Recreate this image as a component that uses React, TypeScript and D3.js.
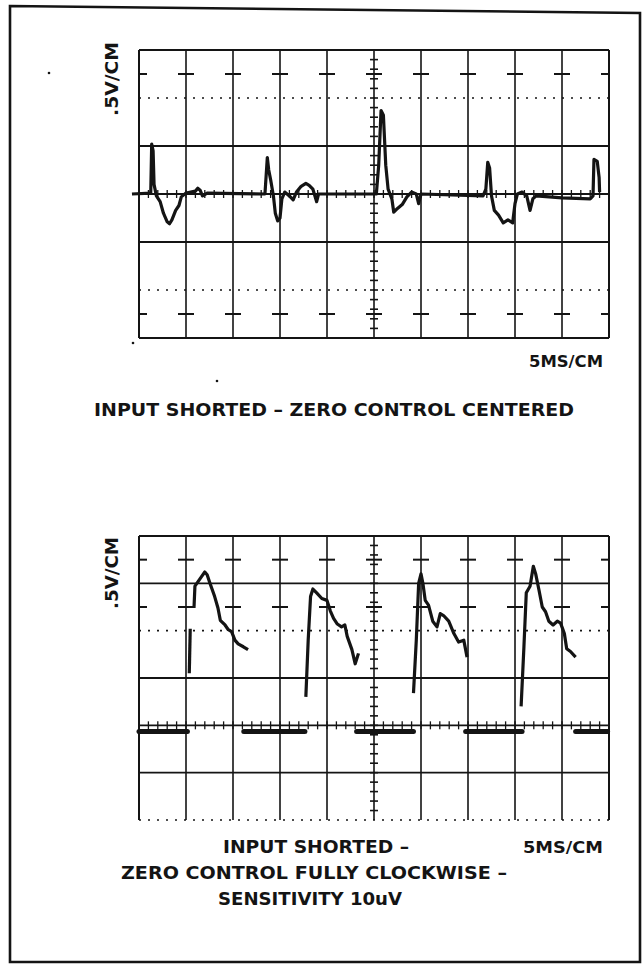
import React, {useEffect, useRef} from "react";
import * as d3 from "d3";

type Pt = [number, number];

// sweep 5 ms/cm, vertical 0.5 V/cm
const sweepMs = [0, 5, 10, 15, 20, 25, 30, 35, 40, 45, 50];
const dottedVolts = [-1, 1];
const dashVolts = [-1.75, -1.25, 1.25, 1.75];

// upper trace: input shorted, zero control centered  [ms, V]
const topTrace: Pt[] = [
    [-0.75, 0], [1.25, 0.01], [1.35, 0.52], [1.5, 0.45], [1.6, 0.1], [1.85, -0.02],
    [2.25, -0.08], [2.6, -0.2], [3.0, -0.29], [3.25, -0.31], [3.5, -0.27], [3.9, -0.17],
    [4.25, -0.12], [4.5, -0.03], [5.0, 0.01], [6.0, 0.03], [6.25, 0.06], [6.5, 0.04],
    [6.75, -0.02], [7.25, 0.01], [13.4, 0], [13.65, 0.38], [13.8, 0.25], [14.0, 0.15],
    [14.3, -0.02], [14.5, -0.2], [14.75, -0.28], [15.0, -0.25], [15.2, -0.05], [15.5, 0.02],
    [16.0, -0.02], [16.4, -0.06], [16.75, 0.02], [17.25, 0.08], [17.75, 0.11], [18.1, 0.09],
    [18.5, 0.05], [18.9, -0.08], [19.1, 0], [25.25, 0], [25.5, 0.3], [25.75, 0.87],
    [26.0, 0.82], [26.25, 0.3], [26.5, 0.05], [26.9, -0.05], [27.1, -0.19], [27.5, -0.15],
    [28.0, -0.11], [28.5, -0.03], [29.0, 0.02], [29.5, 0], [29.75, -0.1], [30.0, 0],
    [36.6, -0.02], [36.9, 0.05], [37.1, 0.33], [37.3, 0.27], [37.5, -0.02], [37.8, -0.17],
    [38.25, -0.22], [38.75, -0.3], [39.25, -0.27], [39.75, -0.3], [40.0, -0.1], [40.25, 0],
    [40.75, 0.02], [41.25, -0.02], [41.6, -0.17], [41.9, -0.05], [42.25, -0.02], [45.0, -0.04],
    [48.0, -0.05], [48.3, -0.02], [48.4, 0.36], [48.75, 0.34], [48.95, 0.17], [49.0, 0.02],
];

// lower trace: zero control fully clockwise  [ms, V]
const bottomPulses: Pt[][] = [
    [[5.35, 0.55], [5.45, 1.02]],
    [[5.85, 1.24], [5.95, 1.47], [6.3, 1.52], [6.65, 1.57], [7.0, 1.62], [7.25, 1.59],
        [7.55, 1.5], [8.05, 1.36], [8.4, 1.24], [8.65, 1.11], [9.15, 1.06], [9.5, 1.01],
        [9.85, 0.99], [10.2, 0.9], [10.55, 0.86], [11.1, 0.83], [11.6, 0.8]],
    [[17.75, 0.3], [18.0, 0.9], [18.25, 1.36], [18.5, 1.44], [18.9, 1.4], [19.45, 1.34],
        [20.0, 1.32], [20.35, 1.21], [20.7, 1.13], [21.1, 1.07], [21.55, 1.04], [21.9, 1.06],
        [22.15, 0.94], [22.65, 0.8], [23.0, 0.65], [23.35, 0.76]],
    [[29.2, 0.34], [29.5, 0.9], [29.75, 1.5], [30.0, 1.6], [30.2, 1.5], [30.45, 1.32],
        [30.8, 1.27], [31.25, 1.1], [31.7, 1.04], [32.05, 1.18], [32.4, 1.16], [32.95, 1.1],
        [33.5, 0.97], [34.0, 0.88], [34.55, 0.9], [34.9, 0.72]],
    [[40.65, 0.2], [40.95, 0.83], [41.2, 1.4], [41.6, 1.47], [41.95, 1.68], [42.2, 1.6],
        [42.55, 1.43], [42.9, 1.25], [43.25, 1.2], [43.6, 1.1], [44.05, 1.06], [44.5, 1.1],
        [44.85, 1.08], [45.25, 0.97], [45.5, 0.81], [45.9, 0.78], [46.45, 0.72]],
];
const bottomFlats: Pt[] = [[0, 5.15], [11.15, 17.65], [23.15, 29.2], [34.75, 40.75], [46.45, 49.85]];
const flatVolts = -0.065;

const ink = "#141414";
const font = "'DejaVu Sans', 'Liberation Sans', sans-serif";

const drawScope = (g, x, y) => {
    const [vMin, vMax] = y.domain();
    const [x0, x1] = x.range();
    const rows = d3.range(vMin, vMax + 0.01, 0.5);

    g.selectAll("line.col")
        .data(sweepMs)
        .enter()
        .append("line")
        .attr("x1", d => x(d)).attr("x2", d => x(d))
        .attr("y1", y(vMax)).attr("y2", y(vMin))
        .attr("stroke", ink)
        .attr("stroke-width", (d, i) => (i === 0 || i === sweepMs.length - 1 ? 2 : 1.6));

    g.selectAll("line.row")
        .data(rows)
        .enter()
        .append("line")
        .attr("x1", x0).attr("x2", x1)
        .attr("y1", d => y(d)).attr("y2", d => y(d))
        .attr("stroke", ink)
        .attr("stroke-width", d => (dottedVolts.includes(d) ? 1.6 : 1.8))
        .attr("stroke-dasharray", d => (dottedVolts.includes(d) ? "2,7" : null));

    // half-division dashes on every column
    dashVolts.filter(v => v > vMin && v < vMax).forEach(v => {
        g.selectAll(null)
            .data(sweepMs)
            .enter()
            .append("line")
            .attr("x1", d => Math.max(x0, x(d) - 8))
            .attr("x2", d => Math.min(x1, x(d) + 8))
            .attr("y1", y(v)).attr("y2", y(v))
            .attr("stroke", ink)
            .attr("stroke-width", 2);
    });

    // minor ticks on the centre axes
    g.selectAll(null)
        .data(d3.range(1, 50, 1))
        .enter()
        .append("line")
        .attr("x1", d => x(d)).attr("x2", d => x(d))
        .attr("y1", y(0) - 4).attr("y2", y(0) + 4)
        .attr("stroke", ink)
        .attr("stroke-width", 1.3);

    g.selectAll(null)
        .data(d3.range(vMin + 0.1, vMax, 0.1))
        .enter()
        .append("line")
        .attr("x1", x(25) - 4).attr("x2", x(25) + 4)
        .attr("y1", d => y(d)).attr("y2", d => y(d))
        .attr("stroke", ink)
        .attr("stroke-width", 1.6);
};

const App = () => {
    const ref = useRef(null);

    useEffect(() => {
        const svg = d3.select(ref.current);
        svg.selectAll("*").remove();

        const x = d3.scaleLinear().domain([0, 50]).range([139, 609]);
        const yTop = d3.scaleLinear().domain([-1.5, 1.5]).range([338, 50]);
        const yBot = d3.scaleLinear().domain([-1, 2]).range([820, 536]);

        // outer frame
        svg.append("path")
            .attr("d", "M10,6 L640,13 L640,962 L10,962 Z")
            .attr("fill", "none")
            .attr("stroke", ink)
            .attr("stroke-width", 2.6);

        const top = svg.append("g");
        drawScope(top, x, yTop);
        const lineTop = d3.line<Pt>().x(d => x(d[0])).y(d => yTop(d[1]));
        top.append("path")
            .attr("d", lineTop(topTrace))
            .attr("fill", "none")
            .attr("stroke", ink)
            .attr("stroke-width", 3.2)
            .attr("stroke-linejoin", "round");

        const bot = svg.append("g");
        drawScope(bot, x, yBot);
        const lineBot = d3.line<Pt>().x(d => x(d[0])).y(d => yBot(d[1]));
        bot.selectAll("path.pulse")
            .data(bottomPulses)
            .enter()
            .append("path")
            .attr("d", d => lineBot(d))
            .attr("fill", "none")
            .attr("stroke", ink)
            .attr("stroke-width", 3.2)
            .attr("stroke-linejoin", "round");
        bot.selectAll("line.flat")
            .data(bottomFlats)
            .enter()
            .append("line")
            .attr("x1", d => x(d[0])).attr("x2", d => x(d[1]))
            .attr("y1", yBot(flatVolts)).attr("y2", yBot(flatVolts))
            .attr("stroke", ink)
            .attr("stroke-width", 5)
            .attr("stroke-linecap", "round");

        // labels
        const label = (txt, px, py, size, len, rotate = false, anchor = "middle") => {
            const t = svg.append("text")
                .attr("font-family", font)
                .attr("font-weight", "bold")
                .attr("font-size", size)
                .attr("fill", ink)
                .attr("text-anchor", anchor)
                .attr("textLength", len)
                .attr("lengthAdjust", "spacingAndGlyphs")
                .text(txt);
            if (rotate) {
                t.attr("transform", `translate(${px},${py}) rotate(-90)`);
            } else {
                t.attr("x", px).attr("y", py);
            }
        };

        label(".5V/CM", 118, 79, 17, 74, true);
        label(".5V/CM", 118, 573, 17, 72, true);
        label("5MS/CM", 603, 367, 16, 74, false, "end");
        label("INPUT SHORTED – ZERO CONTROL CENTERED", 334, 416, 17, 480);
        label("5MS/CM", 603, 853, 16, 80, false, "end");
        label("INPUT SHORTED –", 316, 853, 17, 186);
        label("ZERO CONTROL FULLY CLOCKWISE –", 314, 879, 17, 386);
        label("SENSITIVITY 10uV", 310, 905, 17, 184);

        // specks on the print
        [[49, 73], [133, 343], [217, 381]].forEach(([cx, cy]) => {
            svg.append("circle").attr("cx", cx).attr("cy", cy).attr("r", 1.3).attr("fill", ink);
        });
    }, []);

    return (
        <svg
            ref={ref}
            width={643}
            height={967}
            style={{position: "absolute", left: 0, top: 0, background: "#fff"}}
        />
    );
};

export default App;
